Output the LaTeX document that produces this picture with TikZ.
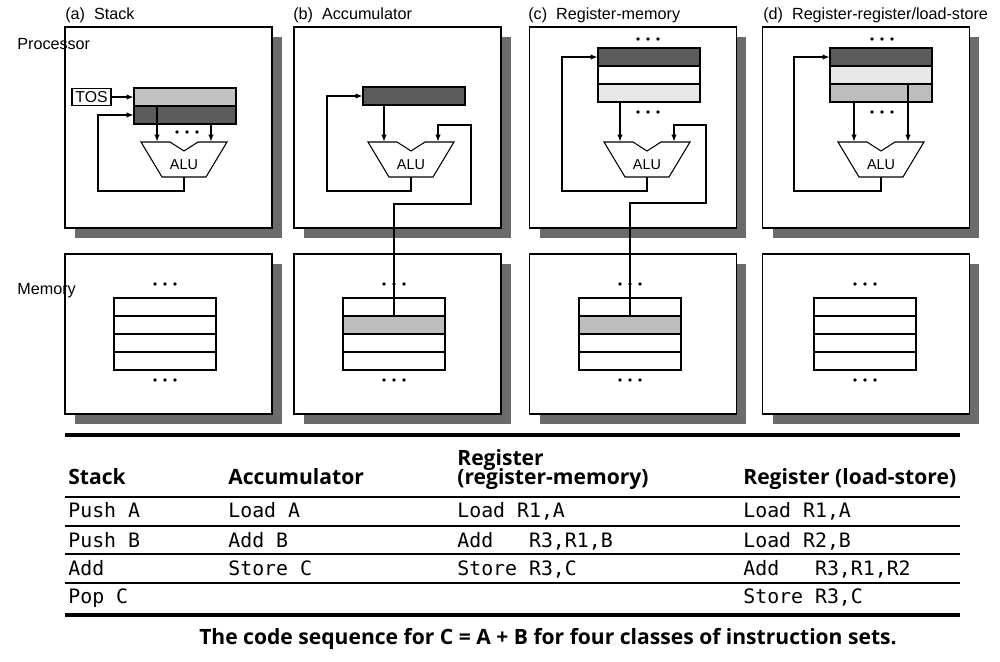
\documentclass[tikz,border=0pt]{standalone}
\usepackage{fontspec}
\setmainfont{Liberation Sans}
\newfontfamily\headfont{Open Sans}
\newfontfamily\codefont{DejaVu Sans Mono}
\usetikzlibrary{arrows.meta,calc,positioning}

\definecolor{darkreg}{gray}{0.36}
\definecolor{lightreg}{gray}{0.76}
\definecolor{paler}{gray}{0.91}
\definecolor{midreg}{gray}{0.74}
\definecolor{shade}{gray}{0.74}
\definecolor{shadowgray}{gray}{0.42}

\begin{document}
\begin{tikzpicture}[
    x=0.02cm,
    y=-0.02cm,
    >={Latex[length=1.5mm,width=1.1mm]},
    panel/.style={draw, fill=white, line width=0.6pt, minimum width=4.14cm, inner sep=0pt,
        preaction={fill=shadowgray, draw=none, transform canvas={shift={(0.2cm,-0.2cm)}}}},
    proc/.style={panel, minimum height=4.02cm},
    mem/.style={panel, minimum height=3.2cm},
    reg/.style={draw, line width=0.6pt, minimum width=2.04cm, minimum height=0.36cm, inner sep=0pt, outer sep=0pt},
    cell/.style={reg, fill=white},
    tag/.style={font=\fontsize{9.2}{11}\selectfont, inner sep=0pt, anchor=west},
    tosbox/.style={draw, line width=0.6pt, minimum width=0.78cm, minimum height=0.34cm, inner sep=0pt, font=\fontsize{9}{10}\selectfont},
    line/.style={line width=1.1pt},
    head/.style={font=\headfont\bfseries\fontsize{12}{14}\selectfont, anchor=base west, inner sep=0pt},
    code/.style={font=\codefont\fontsize{11.3}{13}\selectfont, anchor=base west, inner sep=0pt},
    alu/.pic={
        \draw[line width=0.6pt, fill=white] (-43,0) -- (-14,0) -- (0,9) -- (14,0) -- (43,0) -- (22,35) -- (-22,35) -- cycle;
        \node[font=\fontsize{8.2}{9}\selectfont, inner sep=0pt] (-name) at (0,23) {ALU};
        \coordinate (-inl) at (-27,0);
        \coordinate (-inr) at (27,0);
        \coordinate (-out) at (0,35);
    },
    dots/.pic={
        \foreach \d in {-10,0,10} \fill (\d,0) circle (1.05pt);
    }
]
\useasboundingbox (0,0) rectangle (1000,662);

% panels
\node[proc] (procA) at (168.5,127.5) {};
\node[proc] (procB) at (397.5,127.5) {};
\node[proc] (procC) at (633,127.5) {};
\node[proc] (procD) at (866,127.5) {};
\node[mem] (memA) at (168.5,334) {};
\node[mem] (memB) at (397.5,334) {};
\node[mem] (memC) at (633,334) {};
\node[mem] (memD) at (866,334) {};

\node[tag] (titleA) at (65,15) {(a)\ \ Stack};
\node[tag] (titleB) at (293,15) {(b)\ \ Accumulator};
\node[tag] (titleC) at (528,15) {(c)\ \ Register-memory};
\node[tag] (titleD) at (763,15) {(d)\ \ Register-register/load-store};
\node[tag] (proclbl) at (17,44) {Processor};
\node[tag] (memlbl) at (17,291) {Memory};

% memory arrays
\foreach \p/\cx/\sh in {A/165/white, B/394/shade, C/630/shade, D/865/white} {
    \node[cell] (mem\p1) at (\cx,307) {};
    \node[cell, fill=\sh, below=0pt of mem\p1] (mem\p2) {};
    \node[cell, below=0pt of mem\p2] (mem\p3) {};
    \node[cell, below=0pt of mem\p3] (mem\p4) {};
    \pic at (\cx,284) {dots};
    \pic at (\cx,380) {dots};
}

% (a) stack
\node[tosbox] (tos) at (91.5,97) {TOS};
\node[reg, fill=lightreg] (stkA1) at (185,97) {};
\node[reg, fill=darkreg, below=0pt of stkA1] (stkA2) {};
\pic (aluA) at (184,142) {alu};
\pic at (187,132) {dots};
\draw[line,->] (tos) -- (stkA1);
\draw[line,->] (aluA-inl |- stkA1.south) -- (aluA-inl);
\draw[line,->] (aluA-inr |- stkA2.south) -- (aluA-inr);
\draw[line,->] (aluA-out) -- ++(0,14) -| ($(stkA2.west)+(-36,0)$) -- (stkA2.west);

% (b) accumulator
\node[reg, fill=darkreg] (acc) at (414,96) {};
\pic (aluB) at (411,142) {alu};
\draw[line,->] (aluB-inl |- acc.south) -- (aluB-inl);
\draw[line,->] (aluB-out) -- ++(0,14) -| ($(acc.west)+(-36,0)$) -- (acc.west);
\draw[line,->] (memB2.north) |- ($(aluB-inr)+(33,62)$) |- ($(aluB-inr)+(0,-17)$) -- (aluB-inr);

% (c) register-memory
\node[reg, fill=darkreg] (rfC1) at (649,57) {};
\node[reg, fill=white, below=0pt of rfC1] (rfC2) {};
\node[reg, fill=paler, below=0pt of rfC2] (rfC3) {};
\pic at (648,39) {dots};
\pic at (648,112) {dots};
\pic (aluC) at (647,142) {alu};
\draw[line,->] (aluC-inl |- rfC3.south) -- (aluC-inl);
\draw[line,->] (aluC-out) -- ++(0,14) -| ($(rfC1.west)+(-36,0)$) -- (rfC1.west);
\draw[line,->] (memC2.north) |- ($(aluC-inr)+(32,61)$) |- ($(aluC-inr)+(0,-17)$) -- (aluC-inr);

% (d) load-store
\node[reg, fill=darkreg] (rfD1) at (881,57) {};
\node[reg, fill=paler, below=0pt of rfD1] (rfD2) {};
\node[reg, fill=midreg, below=0pt of rfD2] (rfD3) {};
\pic at (882,39) {dots};
\pic at (882,112) {dots};
\pic (aluD) at (881,142) {alu};
\draw[line,->] (aluD-inl |- rfD3.south) -- (aluD-inl);
\draw[line,->] (aluD-inr |- rfD2.south) -- (aluD-inr);
\draw[line,->] (aluD-out) -- ++(0,14) -| ($(rfD1.west)+(-36,0)$) -- (rfD1.west);

% table
\draw[line width=2pt] (65,435) -- (960,435);
\draw[line width=0.6pt] (65,497) -- (960,497);
\draw[line width=0.6pt] (65,526) -- (960,526);
\draw[line width=0.6pt] (65,554) -- (960,554);
\draw[line width=0.6pt] (65,583) -- (960,583);
\draw[line width=2pt] (65,615) -- (960,615);

\node[head] (hStack) at (68,484) {Stack};
\node[head] (hAcc) at (228,484) {Accumulator};
\node[head] (hRegMem1) at (457,465) {Register};
\node[head] (hRegMem2) at (457,484) {(register-memory)};
\node[head] (hLoadStore) at (743,484) {Register (load-store)};

\node[code] (s1) at (68,517) {Push A};
\node[code] (s2) at (68,547) {Push B};
\node[code] (s3) at (68,575) {Add};
\node[code] (s4) at (68,603) {Pop C};
\node[code] (a1) at (228,517) {Load A};
\node[code] (a2) at (228,547) {Add B};
\node[code] (a3) at (228,575) {Store C};
\node[code] (m1) at (457,517) {Load R1,A};
\node[code] (m2) at (457,547) {Add\ \ \ R3,R1,B};
\node[code] (m3) at (457,575) {Store R3,C};
\node[code] (l1) at (743,517) {Load R1,A};
\node[code] (l2) at (743,547) {Load R2,B};
\node[code] (l3) at (743,575) {Add\ \ \ R3,R1,R2};
\node[code] (l4) at (743,603) {Store R3,C};

\node[head, anchor=base] (caption) at (548,644) {The code sequence for C = A + B for four classes of instruction sets.};
\end{tikzpicture}
\end{document}
